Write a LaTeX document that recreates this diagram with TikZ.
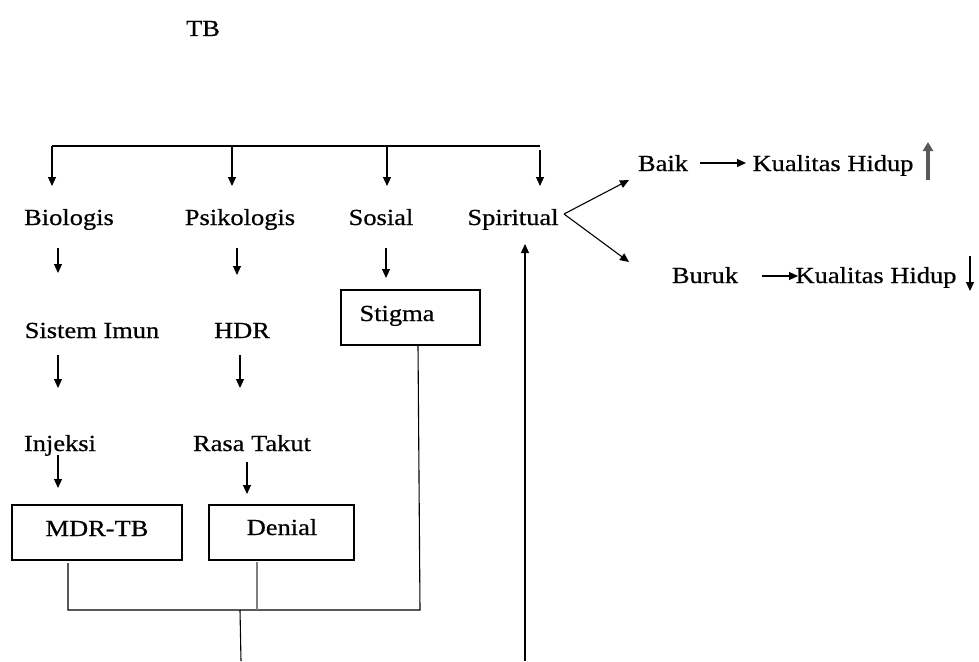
\documentclass[tikz,border=0pt]{standalone}
\usepackage{fontspec}
\setmainfont{Liberation Serif}[FakeStretch=1.15,FakeBold=0.6]
\usetikzlibrary{arrows.meta}
\begin{document}
\begin{tikzpicture}[x=1pt,y=-1pt,
  lbl/.style={font=\fontsize{23}{26}\selectfont, inner sep=0pt, anchor=base},
  boxn/.style={draw, line width=1.2pt, inner sep=0pt},
  conn/.style={line width=1.1pt},
  arr/.style={line width=1.1pt, -{Triangle[length=9pt,width=8pt]}}]
\useasboundingbox (0,0) rectangle (979,661);
% text
\node[lbl] (tb) at (203,36) {TB};
\node[lbl] (bio) at (69,225) {Biologis};
\node[lbl] (psi) at (240,225) {Psikologis};
\node[lbl] (sos) at (381,225) {Sosial};
\node[lbl] (spi) at (513,225) {Spiritual};
\node[lbl] (imun) at (92,338) {Sistem Imun};
\node[lbl] (hdr) at (242,338) {HDR};
\node[lbl] (inj) at (60,451) {Injeksi};
\node[lbl] (takut) at (252,451) {Rasa Takut};
\node[lbl] (baik) at (663,171) {Baik};
\node[lbl] (kh1) at (833,171) {Kualitas Hidup};
\node[lbl] (buruk) at (705,283) {Buruk};
\node[lbl] (kh2) at (876,283) {Kualitas Hidup};
% boxes
\node[boxn, minimum width=139pt, minimum height=55pt] (stigma) at (410.5,317.5) {};
\node[lbl] (stigmat) at (397,321) {Stigma};
\node[boxn, minimum width=170pt, minimum height=55pt] (mdr) at (97,532.5) {};
\node[lbl] (mdrt) at (97,536) {MDR-TB};
\node[boxn, minimum width=145pt, minimum height=55pt] (den) at (281.5,532.5) {};
\node[lbl] (dent) at (282,535) {Denial};
% top bracket
\coordinate (t1) at (52,146); \coordinate (t4) at (540,146);
\draw[conn] (t1) -- (t4);
\coordinate (a1) at (52,186); \coordinate (a2) at (232,186);
\coordinate (a3) at (387,186); \coordinate (a4) at (540,186);
\draw[arr] (t1) -- (a1);
\draw[arr] (232,146) -- (a2);
\draw[arr] (387,146) -- (a3);
\draw[arr] (540,150) -- (a4);
% column arrows
\draw[arr] (58,248) -- (58,273);
\draw[arr] (237,248) -- (237,275);
\draw[arr] (386,248) -- (386,278);
\draw[arr] (58,355) -- (58,388);
\draw[arr] (240,355) -- (240,388);
\draw[arr] (58,455) -- (58,488);
\draw[arr] (247,462) -- (247,494);
% bottom joins
\coordinate (jm) at (68,610); \coordinate (jd) at (257,610); \coordinate (js) at (420,610);
\coordinate (jc) at (240,610);
\draw[conn] (68,563) -- (jm) -- (js) -- (418,345);
\draw[conn, gray] (257,562) -- (jd);
\draw[conn] (jc) -- (241,661);
% upward arrow to Spiritual
\coordinate (up) at (525,244);
\draw[arr] (525,661) -- (up);
% Spiritual branches
\coordinate (sp) at (564,214);
\draw[arr] (sp) -- (629,180);
\draw[arr] (sp) -- (629,262);
\draw[arr] (700,163) -- (746,163);
\draw[arr] (762,276) -- (798,276);
\draw[line width=3.5pt, gray!70!black, -{Triangle[length=9pt,width=10pt]}] (928,180) -- (928,142);
\draw[arr] (970,256) -- (970,291);
\end{tikzpicture}
\end{document}
